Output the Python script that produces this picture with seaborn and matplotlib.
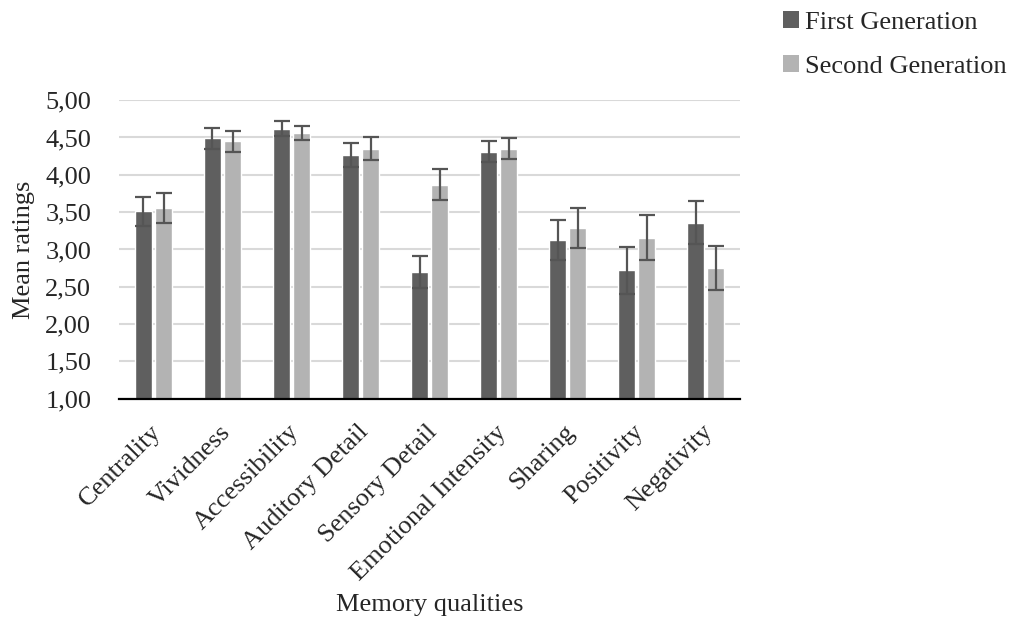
import numpy as np
import pandas as pd
import seaborn as sns
import matplotlib.pyplot as plt
import matplotlib.transforms as mtransforms
from matplotlib.patches import Patch
from matplotlib.ticker import FuncFormatter

# Values
qualities = ['Centrality', 'Vividness', 'Accessibility', 'Auditory Detail',
             'Sensory Detail', 'Emotional Intensity', 'Sharing', 'Positivity',
             'Negativity']
groups = ['First Generation', 'Second Generation']
first_mean = [3.51, 4.49, 4.62, 4.27, 2.70, 4.31, 3.13, 2.72, 3.36]
second_mean = [3.56, 4.45, 4.56, 4.35, 3.87, 4.35, 3.29, 3.16, 2.75]
first_err = [0.19, 0.14, 0.10, 0.16, 0.21, 0.14, 0.27, 0.31, 0.29]
second_err = [0.20, 0.14, 0.10, 0.15, 0.21, 0.14, 0.27, 0.30, 0.29]

df = pd.DataFrame({
    'quality': qualities * 2,
    'group': [groups[0]] * len(qualities) + [groups[1]] * len(qualities),
    'mean': first_mean + second_mean,
})
errs = [first_err, second_err]
palette = {groups[0]: '#5f5f5f', groups[1]: '#b3b3b3'}

sns.set_style('white')
plt.rcParams['font.family'] = ['Liberation Serif', 'DejaVu Serif']
fs = 19

fig = plt.figure(figsize=(10.11, 6.26), dpi=100)
ax = fig.add_axes([0.1177, 0.363, 0.6143, 0.477])

sns.barplot(data=df, x='quality', y='mean', hue='group', palette=palette,
            width=0.58, gap=0.17, saturation=1, errorbar=None,
            legend=False, ax=ax, zorder=2)

# error bars placed on the bars seaborn drew
for cont, err in zip(ax.containers, errs):
    xs = [b.get_x() + b.get_width() / 2 for b in cont]
    ys = [b.get_height() + b.get_y() for b in cont]
    ax.errorbar(xs, ys, yerr=err, fmt='none', ecolor='#555555',
                elinewidth=1.6, capsize=6, capthick=1.6, zorder=3)

ax.set_ylim(1, 5)
ax.set_xlim(-0.5, len(qualities) - 0.5)
ax.set_yticks(np.arange(1, 5.01, 0.5))
ax.yaxis.set_major_formatter(FuncFormatter(lambda v, p: f'{v:.2f}'.replace('.', ',')))
ax.grid(axis='y', color='#d9d9d9', linewidth=1.5, zorder=0)
ax.set_axisbelow(True)
for s in ['top', 'right', 'left']:
    ax.spines[s].set_visible(False)
ax.spines['bottom'].set_color('black')
ax.spines['bottom'].set_linewidth(1.6)
ax.tick_params(axis='y', length=0, pad=20, labelsize=fs)
ax.tick_params(axis='x', length=0, pad=16, labelsize=fs)
plt.setp(ax.get_xticklabels(), rotation=45, ha='right', rotation_mode='default')
shift = mtransforms.ScaledTranslation(0.12, 0, fig.dpi_scale_trans)
for lab in ax.get_xticklabels():
    lab.set_transform(lab.get_transform() + shift)

ax.set_xlabel('Memory qualities', fontsize=fs)
ax.xaxis.set_label_coords(0.5, -0.655)
ax.set_ylabel('Mean ratings', fontsize=fs, labelpad=7)

handles = [Patch(facecolor=palette[g], edgecolor='none') for g in groups]
fig.legend(handles, groups, loc='upper left', bbox_to_anchor=(0.751, 1.02),
           frameon=False, fontsize=fs, handlelength=0.6, handleheight=0.6,
           handletextpad=0.25, labelspacing=0.8)

fig.savefig('out.png', dpi=100)
